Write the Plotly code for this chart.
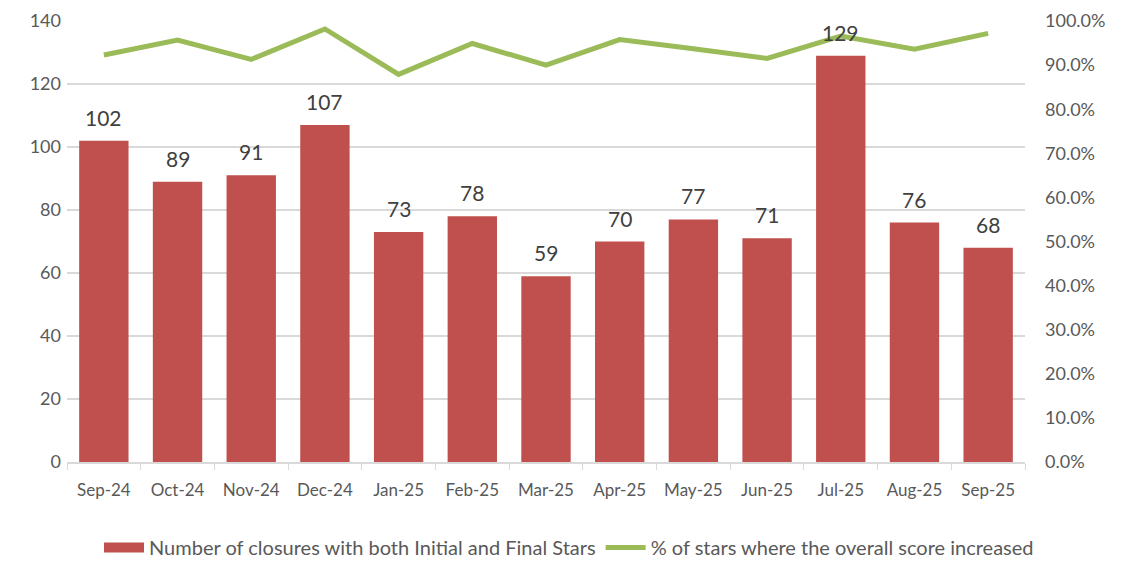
import plotly.graph_objects as go

MONTHS = [
    "Sep-24", "Oct-24", "Nov-24", "Dec-24", "Jan-25", "Feb-25", "Mar-25",
    "Apr-25", "May-25", "Jun-25", "Jul-25", "Aug-25", "Sep-25",
]
CLOSURES = [102, 89, 91, 107, 73, 78, 59, 70, 77, 71, 129, 76, 68]
PCT_INCREASED = [0.923, 0.957, 0.913, 0.982, 0.879, 0.949, 0.900,
                 0.958, 0.937, 0.915, 0.966, 0.936, 0.972]

BAR_NAME = "Number of closures with both Initial and Final Stars"
LINE_NAME = "% of stars where the overall score increased"

FONT = "Lato, 'Open Sans', sans-serif"
RED = "#C0504D"
GREEN = "#9BBB59"

fig = go.Figure()

fig.add_trace(
    go.Bar(
        x=MONTHS,
        y=CLOSURES,
        name=BAR_NAME,
        marker={"color": RED, "line": {"width": 0}},
        showlegend=False,
    )
)

# legend-only entry so the bar key shows as a wide block like the original
fig.add_trace(
    go.Scatter(
        x=[None],
        y=[None],
        name=BAR_NAME,
        mode="lines",
        line={"color": RED, "width": 16},
    )
)

fig.add_trace(
    go.Scatter(
        x=MONTHS,
        y=PCT_INCREASED,
        name=LINE_NAME,
        mode="lines",
        line={"color": GREEN, "width": 5},
        yaxis="y2",
    )
)

for month, value in zip(MONTHS, CLOSURES):
    fig.add_annotation(
        x=month,
        y=value,
        text=str(value),
        showarrow=False,
        yanchor="bottom",
        yshift=9,
        font={"size": 21, "color": "#404040"},
    )

# page body keeps an 8px margin, so the canvas is 8px smaller each way
fig.update_layout(
    width=1122,
    height=559,
    margin={"l": 59, "r": 105, "t": 13, "b": 105, "autoexpand": False},
    plot_bgcolor="white",
    paper_bgcolor="white",
    font={"family": FONT, "size": 17, "color": "#595959"},
    bargap=0.33,
    showlegend=True,
    legend={
        "orientation": "h",
        "x": 0.5,
        "xanchor": "center",
        "xref": "container",
        "y": -0.01,
        "yanchor": "bottom",
        "yref": "container",
        "font": {"size": 20, "color": "#595959"},
        "itemwidth": 40,
    },
    xaxis={
        "automargin": False,
        "showgrid": False,
        "showline": True,
        "linecolor": "#D9D9D9",
        "linewidth": 1.5,
        "ticks": "outside",
        "tickson": "boundaries",
        "tickcolor": "#D9D9D9",
        "ticklen": 6,
        "tickfont": {"size": 17},
        "ticklabelstandoff": 12,
    },
    yaxis={
        "automargin": False,
        "range": [0, 140],
        "dtick": 20,
        "gridcolor": "#D9D9D9",
        "gridwidth": 1.5,
        "zeroline": False,
        "tickfont": {"size": 18},
        "ticklabelstandoff": 5,
    },
    yaxis2={
        "automargin": False,
        "overlaying": "y",
        "side": "right",
        "range": [0, 1.0],
        "dtick": 0.1,
        "tickformat": ".1%",
        "showgrid": False,
        "zeroline": False,
        "tickfont": {"size": 18},
        "ticklabelstandoff": 19,
    },
)

fig.write_html("out.html")
